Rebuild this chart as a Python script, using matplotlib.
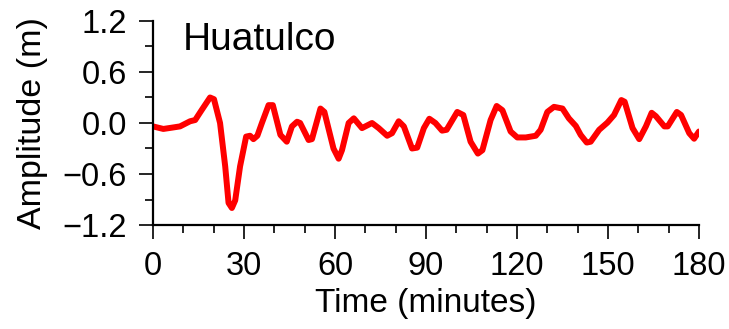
import matplotlib
matplotlib.use("Agg")
import matplotlib.pyplot as plt
from matplotlib.ticker import MultipleLocator

plt.rcParams['font.family'] = ['Liberation Sans', 'DejaVu Sans']

station = "Huatulco"
time_min = [0, 3.4, 6.2, 8.9, 12.2, 13.9, 16, 18.8, 20.1, 22.1, 23.8, 24.9, 26, 27.1,
            28.7, 30.7, 32, 33.1, 34.4, 35.9, 38.1, 39.5, 42, 44.1, 45.8, 47.5, 48.5,
            51.3, 52.4, 55.2, 56.5, 59.5, 61.2, 62.3, 64.5, 66.2, 68.9, 72.2, 74.4,
            77.2, 78.8, 81, 82.7, 85.4, 87.1, 89.3, 91.1, 93.1, 95.3, 96.8, 100.3,
            102.3, 104.7, 107.1, 108.6, 111.3, 113.3, 115.2, 117.9, 120.1, 122.9,
            126.2, 127.8, 130, 132.2, 135, 137.1, 139.4, 141, 143, 144.3, 147.1,
            149.8, 152, 154.4, 155.5, 158.1, 160.3, 162.5, 164.4, 165.8, 168.6,
            169.7, 172.7, 174.1, 176.8, 178.4, 180]
amplitude = [-0.04, -0.07, -0.055, -0.04, 0.02, 0.035, 0.15, 0.30, 0.28, 0.0, -0.51,
             -0.94, -1.0, -0.91, -0.51, -0.16, -0.15, -0.19, -0.15, 0.0, 0.21, 0.21,
             -0.14, -0.22, -0.04, 0.015, 0.0, -0.2, -0.19, 0.17, 0.13, -0.3, -0.42,
             -0.32, 0.0, 0.055, -0.06, 0.0, -0.06, -0.15, -0.12, 0.02, -0.04, -0.30,
             -0.29, -0.06, 0.05, 0.0, -0.09, -0.08, 0.13, 0.094, -0.22, -0.36, -0.32,
             0.035, 0.2, 0.15, -0.10, -0.17, -0.17, -0.15, -0.08, 0.13, 0.19, 0.17,
             0.055, -0.035, -0.14, -0.23, -0.22, -0.08, 0.004, 0.094, 0.27, 0.25,
             -0.06, -0.19, -0.04, 0.12, 0.08, -0.04, -0.04, 0.13, 0.094, -0.12,
             -0.185, -0.10]

fig = plt.figure(figsize=(7.29, 3.29), dpi=100)
ax = fig.add_axes([0.2099, 0.3161, 0.7489, 0.6201])
ax.plot(time_min, amplitude, color='#ff0000', lw=4.3, solid_joinstyle='round', solid_capstyle='round')

ax.set_xlim(0, 180)
ax.set_ylim(-1.2, 1.2)
ax.xaxis.set_major_locator(MultipleLocator(30))
ax.xaxis.set_minor_locator(MultipleLocator(10))
ax.yaxis.set_major_locator(MultipleLocator(0.6))
ax.yaxis.set_minor_locator(MultipleLocator(0.3))
ax.yaxis.set_major_formatter(plt.FuncFormatter(lambda v, p: f"{v:.1f}".replace('-', '\u2212') if abs(v) > 1e-9 else "0.0"))

for s in ['top', 'right']:
    ax.spines[s].set_visible(False)
for s in ['left', 'bottom']:
    ax.spines[s].set_linewidth(1.6)
ax.tick_params(which='major', direction='out', length=10, width=1.2, pad=9, labelsize=23.5)
ax.tick_params(which='minor', direction='out', length=5.5, width=1.2)

ax.set_xlabel("Time (minutes)", fontsize=24, labelpad=4)
ax.set_ylabel("Amplitude (m)", fontsize=24.5, labelpad=10)
ax.text(0.055, 0.905, station, transform=ax.transAxes, fontsize=28, va='center', ha='left')

fig.savefig("out.png", dpi=100)
